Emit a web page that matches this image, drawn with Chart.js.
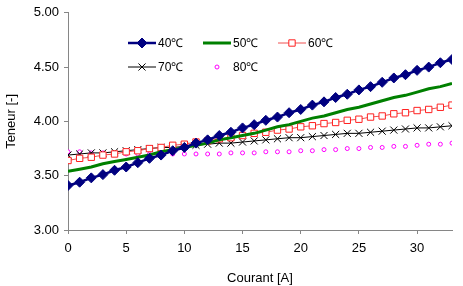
<!DOCTYPE html>
<html>
<head>
<meta charset="utf-8">
<script src="https://cdn.jsdelivr.net/npm/chart.js@4"></script>
<style>
  html, body { margin: 0; padding: 0; background: #fff; }
  #wrap { width: 463px; height: 286px; }
</style>
</head>
<body>
<div id="wrap"><canvas id="chart" width="463" height="286"></canvas></div>
<script>
const courant = [0, 1, 2, 3, 4, 5, 6, 7, 8, 9, 10, 11, 12, 13, 14, 15, 16,
    17, 18, 19, 20, 21, 22, 23, 24, 25, 26, 27, 28, 29, 30, 31, 32, 33];

const t40 = [3.41, 3.44, 3.48, 3.51, 3.55, 3.58, 3.62, 3.66, 3.69, 3.73, 3.76, 3.80, 3.83, 3.87, 3.90, 3.94, 3.97,
    4.01, 4.04, 4.08, 4.11, 4.15, 4.18, 4.22, 4.25, 4.29, 4.32, 4.36, 4.40, 4.43, 4.47, 4.50, 4.54, 4.57];
const t50 = [3.54, 3.56, 3.58, 3.61, 3.63, 3.65, 3.67, 3.69, 3.72, 3.74, 3.76, 3.78, 3.80, 3.83, 3.85, 3.87, 3.89,
    3.92, 3.95, 3.97, 4.00, 4.03, 4.05, 4.08, 4.11, 4.13, 4.16, 4.19, 4.22, 4.24, 4.27, 4.30, 4.32, 4.35];
const t60 = [3.64, 3.66, 3.67, 3.69, 3.70, 3.72, 3.73, 3.75, 3.76, 3.78, 3.79, 3.81, 3.82, 3.84, 3.85, 3.87, 3.89,
    3.90, 3.92, 3.93, 3.95, 3.96, 3.98, 3.99, 4.01, 4.02, 4.04, 4.05, 4.07, 4.08, 4.10, 4.11, 4.13, 4.15];
const t70 = [3.69, 3.70, 3.71, 3.71, 3.72, 3.73, 3.74, 3.75, 3.76, 3.76, 3.77, 3.78, 3.79, 3.80, 3.80, 3.81, 3.82,
    3.83, 3.84, 3.85, 3.85, 3.86, 3.87, 3.88, 3.89, 3.89, 3.90, 3.91, 3.92, 3.93, 3.94, 3.94, 3.95, 3.96];
const t80 = [3.72, 3.72, 3.71, 3.71, 3.71, 3.70, 3.70, 3.70, 3.70, 3.70, 3.70, 3.70, 3.70, 3.70, 3.71, 3.71, 3.71,
    3.72, 3.72, 3.72, 3.73, 3.73, 3.74, 3.74, 3.75, 3.75, 3.76, 3.76, 3.77, 3.77, 3.78, 3.79, 3.79, 3.80];

const seriesLabels = ['40℃', '50℃', '60℃', '70℃', '80℃'];
const xTicks = [0, 5, 10, 15, 20, 25, 30];
const yTicks = [3.0, 3.5, 4.0, 4.5, 5.0];

const FONT = 'Liberation Sans, Arial, sans-serif';
const axisGray = '#868686';

function pts(ys) {
    return courant.map((x, i) => ({ x: x, y: ys[i] }));
}

// legend drawn inside the plot, laid out as a 3-column grid like the original
const gridLegend = {
    id: 'gridLegend',
    afterDraw(chart) {
        const ctx = chart.ctx;
        const slots = [[128, 43], [203, 43], [278, 43], [128, 67], [203, 67]];
        chart.data.datasets.forEach((ds, i) => {
            const [lx, ly] = slots[i];
            ctx.save();
            if (ds.showLine !== false) {
                ctx.strokeStyle = ds.borderColor;
                ctx.lineWidth = ds.borderWidth;
                ctx.beginPath();
                ctx.moveTo(lx, ly);
                ctx.lineTo(lx + 28, ly);
                ctx.stroke();
            }
            if (ds.pointRadius > 0) {
                ctx.fillStyle = ds.pointBackgroundColor;
                ctx.strokeStyle = ds.pointBorderColor;
                ctx.lineWidth = ds.pointBorderWidth;
                Chart.helpers.drawPoint(ctx, {
                    pointStyle: ds.pointStyle,
                    radius: ds.pointRadius,
                    rotation: 0,
                    borderWidth: ds.pointBorderWidth
                }, lx + 14, ly);
            }
            ctx.fillStyle = '#000';
            ctx.font = '12px ' + FONT;
            ctx.textBaseline = 'middle';
            ctx.fillText(ds.label, lx + 30, ly + 1);
            ctx.restore();
        });
    }
};

const ctx = document.getElementById('chart').getContext('2d');
new Chart(ctx, {
    type: 'line',
    data: {
        datasets: [
            {
                label: seriesLabels[0],
                data: pts(t40),
                borderColor: '#000080',
                borderWidth: 2.5,
                pointStyle: 'rectRot',
                pointRadius: 5,
                pointBackgroundColor: '#000080',
                pointBorderColor: '#000080',
                pointBorderWidth: 1,
                fill: false
            },
            {
                label: seriesLabels[1],
                data: pts(t50),
                borderColor: '#008000',
                borderWidth: 3,
                pointRadius: 0,
                fill: false
            },
            {
                label: seriesLabels[2],
                data: pts(t60),
                borderColor: '#f05050',
                borderWidth: 1,
                pointStyle: 'rect',
                pointRadius: 4.5,
                pointBackgroundColor: '#ffffff',
                pointBorderColor: '#ff2020',
                pointBorderWidth: 1,
                fill: false
            },
            {
                label: seriesLabels[3],
                data: pts(t70),
                borderColor: '#000000',
                borderWidth: 1,
                pointStyle: 'crossRot',
                pointRadius: 5,
                pointBackgroundColor: '#000000',
                pointBorderColor: '#000000',
                pointBorderWidth: 1,
                fill: false
            },
            {
                label: seriesLabels[4],
                data: pts(t80),
                showLine: false,
                borderColor: '#ff00ff',
                borderWidth: 1,
                pointStyle: 'circle',
                pointRadius: 2,
                pointBackgroundColor: '#ffffff',
                pointBorderColor: '#ff00ff',
                pointBorderWidth: 1,
                fill: false
            }
        ]
    },
    options: {
        responsive: false,
        animation: false,
        layout: { padding: { top: 4, right: 11, left: 0, bottom: 0 }, autoPadding: false },
        plugins: {
            legend: { display: false },
            tooltip: { enabled: false }
        },
        scales: {
            x: {
                type: 'linear',
                min: 0,
                max: 33,
                afterFit: s => { s.height = 56; },
                afterBuildTicks: s => { s.ticks = xTicks.map(v => ({ value: v })); },
                border: { color: axisGray, width: 1 },
                grid: { drawOnChartArea: false, drawTicks: true, tickLength: 4, color: axisGray },
                ticks: { color: '#000', font: { family: FONT, size: 13 }, padding: 7 },
                title: { display: true, text: 'Courant [A]', color: '#000', font: { family: FONT, size: 13, lineHeight: 1 }, padding: { top: 8, bottom: 1 } }
            },
            y: {
                min: 3,
                max: 5,
                afterFit: s => { s.width = 68; },
                afterBuildTicks: s => { s.ticks = yTicks.map(v => ({ value: v })); },
                border: { color: axisGray, width: 1 },
                grid: { drawOnChartArea: false, drawTicks: true, tickLength: 4, color: axisGray },
                ticks: { color: '#000', font: { family: FONT, size: 13 }, padding: 5, callback: v => v.toFixed(2) },
                title: { display: true, text: 'Teneur [-]', color: '#000', font: { family: FONT, size: 13 }, padding: { top: 4, bottom: 8 } }
            }
        }
    },
    plugins: [gridLegend]
});
</script>
</body>
</html>
